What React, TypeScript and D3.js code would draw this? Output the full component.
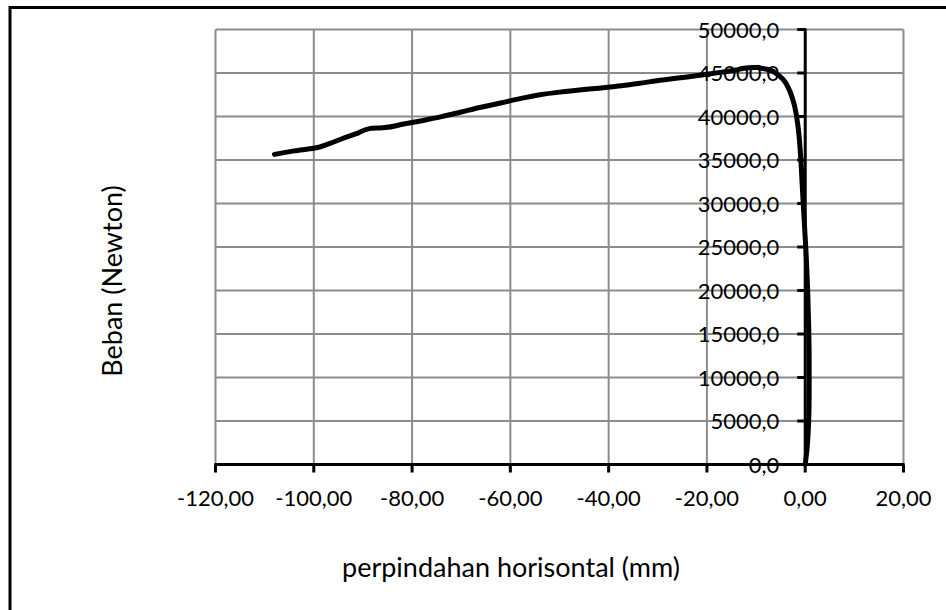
import React from "react";
import * as d3 from "d3";

const dispX: number[] = [0, 0.4, 0.7, 0.8, 0.8, 0.7, 0.5, 0.2, -0.2, -0.6, -1.0, -1.5, -2.3, -3.2, -4.4, -5.8, -7.5, -9.5, -11.5, -14, -17, -20, -24, -29, -34, -38, -42, -46, -50, -54, -58, -62, -66, -70, -74, -78, -82, -86, -88.5, -91, -94, -97, -100, -104, -108];
const loadY: number[] = [0, 2000, 5000, 8000, 12000, 16000, 20000, 24000, 28000, 32000, 36000, 39000, 41500, 43000, 44200, 44900, 45400, 45650, 45600, 45350, 45100, 44850, 44550, 44200, 43800, 43500, 43250, 43050, 42800, 42500, 42050, 41550, 41060, 40520, 39980, 39520, 39100, 38700, 38640, 38100, 37500, 36850, 36350, 36050, 35650];

const xTicks: number[] = [-120, -100, -80, -60, -40, -20, 0, 20];
const yTicks: number[] = [0, 5000, 10000, 15000, 20000, 25000, 30000, 35000, 40000, 45000, 50000];

const xTitle = "perpindahan horisontal (mm)";
const yTitle = "Beban (Newton)";

const fmtX = (v: number) => v.toFixed(2).replace(".", ",");
const fmtY = (v: number) => v.toFixed(1).replace(".", ",");

export default function App() {
  const W = 946, H = 610;
  const left = 215.5, right = 903.5, top = 29.5, bottom = 464.5;
  const x = d3.scaleLinear().domain([-120, 20]).range([left, right]);
  const y = d3.scaleLinear().domain([0, 50000]).range([bottom, top]);
  const pts: [number, number][] = dispX.map((d, i) => [d, loadY[i]]);
  const line = d3.line<[number, number]>().x(d => x(d[0])).y(d => y(d[1])).curve(d3.curveMonotoneY);
  const font = "Lato, 'Open Sans', sans-serif";
  const grid = "#8c8c8c";
  return (
    <svg width={W} height={H} style={{ position: "absolute", left: 0, top: 0, background: "#fff" }} fontFamily={font}>
      <rect x={0} y={0} width={W} height={H} fill="#fff" />
      <rect x={10} y={7.5} width={1000} height={1000} fill="none" stroke="#000" strokeWidth={3} />
      {xTicks.map(t => (
        <line key={"gx" + t} x1={x(t)} x2={x(t)} y1={top} y2={bottom} stroke={grid} strokeWidth={2} />
      ))}
      {yTicks.map(t => (
        <line key={"gy" + t} x1={left} x2={right} y1={y(t)} y2={y(t)} stroke={grid} strokeWidth={2} />
      ))}
      <line x1={left - 1} x2={right + 1} y1={bottom} y2={bottom} stroke="#000" strokeWidth={3} />
      {xTicks.map(t => (
        <line key={"tx" + t} x1={x(t)} x2={x(t)} y1={bottom} y2={bottom + 8} stroke="#000" strokeWidth={3} />
      ))}
      {xTicks.map(t => (
        <text key={"lx" + t} x={x(t)} y={bottom + 41} textAnchor="middle" fontSize={22} fill="#000">{fmtX(t)}</text>
      ))}
      <line x1={x(0)} x2={x(0)} y1={top - 1} y2={bottom + 1} stroke="#000" strokeWidth={3} />
      {yTicks.map(t => (
        <line key={"ty" + t} x1={x(0) - 8} x2={x(0)} y1={y(t)} y2={y(t)} stroke="#000" strokeWidth={3} />
      ))}
      {yTicks.map(t => (
        <text key={"ly" + t} x={x(0) - 26} y={y(t) + 8} textAnchor="end" fontSize={22} fill="#000">{fmtY(t)}</text>
      ))}
      <path d={line(pts) || ""} fill="none" stroke="#000" strokeWidth={5} strokeLinejoin="round" strokeLinecap="round" />
      <text x={511} y={577} textAnchor="middle" fontSize={27} fill="#000">{xTitle}</text>
      <text transform={`translate(122,281) rotate(-90)`} textAnchor="middle" fontSize={27} fill="#000">{yTitle}</text>
    </svg>
  );
}
